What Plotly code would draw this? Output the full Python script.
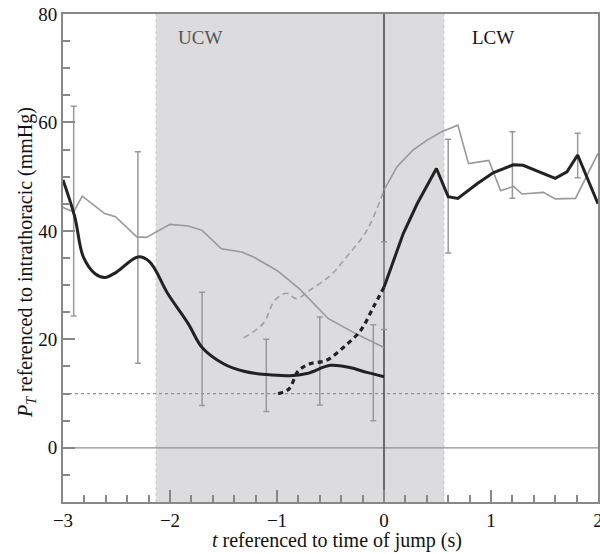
import plotly.graph_objects as go

# Mean P_T (thick black), before jump
black_pre_x = [-3.0, -2.89, -2.81, -2.70, -2.61, -2.50, -2.30, -2.19, -2.02, -1.83, -1.70, -1.50, -1.31, -1.10, -0.88, -0.72, -0.50, -0.32, -0.16, 0.0]
black_pre_y = [49.4, 42.6, 35.2, 32.1, 31.4, 32.4, 35.2, 34.3, 28.4, 22.9, 18.5, 15.5, 14.1, 13.5, 13.3, 13.7, 15.2, 14.8, 13.9, 13.1]

# Thick black dashed segment
black_dash_x = [-0.99, -0.89, -0.80, -0.69, -0.54, -0.38, -0.22, -0.10, 0.0]
black_dash_y = [10.0, 10.8, 14.2, 15.5, 16.1, 18.5, 21.6, 25.9, 29.6]

# Thick black after jump
black_post_x = [0.0, 0.18, 0.31, 0.49, 0.60, 0.69, 0.87, 1.02, 1.21, 1.30, 1.60, 1.71, 1.81, 2.0]
black_post_y = [29.6, 39.5, 45.0, 51.5, 46.3, 46.0, 48.7, 50.7, 52.2, 52.1, 49.7, 50.9, 54.0, 45.0]

# Thin gray line before jump
gray_pre_x = [-3.01, -2.90, -2.82, -2.61, -2.51, -2.31, -2.22, -2.0, -1.83, -1.70, -1.52, -1.33, -1.22, -1.0, -0.79, -0.52, -0.26, 0.0]
gray_pre_y = [44.4, 43.5, 46.4, 43.2, 42.6, 38.9, 38.8, 41.2, 40.9, 40.1, 36.7, 36.1, 35.2, 32.7, 29.3, 23.8, 21.0, 18.5]

# Thin gray dashed
gray_dash_x = [-1.31, -1.13, -1.02, -0.91, -0.82, -0.69, -0.50, -0.35, -0.16, 0.0]
gray_dash_y = [20.3, 22.9, 27.2, 28.5, 27.5, 29.1, 31.8, 35.2, 40.1, 47.5]

# Thin gray line after jump
gray_post_x = [0.0, 0.12, 0.27, 0.40, 0.54, 0.69, 0.79, 0.98, 1.09, 1.21, 1.29, 1.49, 1.60, 1.79, 2.0]
gray_post_y = [47.5, 51.8, 54.9, 56.7, 58.3, 59.5, 52.4, 53.0, 47.4, 48.2, 46.8, 47.1, 45.9, 46.0, 54.3]

# Error bars (range low..high)
err_x = [-2.90, -2.30, -1.70, -1.10, -0.60, -0.10, 0.0, 0.60, 1.20, 1.81]
err_lo = [24.3, 15.6, 7.8, 6.7, 7.9, 5.0, 21.8, 35.9, 46.0, 49.8]
err_hi = [63.0, 54.6, 28.7, 20.0, 24.1, 22.7, 38.0, 56.9, 58.3, 58.0]

# Shaded window and labels
ucw_start, ucw_end = -2.13, 0.56
region_labels = ["UCW", "LCW"]
x_title = "<i>t</i> referenced to time of jump (s)"
y_title = "<i>P</i><sub><i>T</i></sub> referenced to intrathoracic (mmHg)"

FONT = "Liberation Serif"
fig = go.Figure()

fig.add_shape(type="rect", xref="x", yref="y", x0=ucw_start, x1=ucw_end, y0=-10, y1=80,
              fillcolor="#dcdcdf", line_width=0, layer="below")
for xv in (ucw_start, ucw_end):
    fig.add_shape(type="line", xref="x", yref="y", x0=xv, x1=xv, y0=-10, y1=80,
                  line=dict(color="#c8c8cc", width=1, dash="dot"), layer="below")
fig.add_shape(type="line", xref="x", yref="y", x0=-3, x1=2, y0=0, y1=0,
              line=dict(color="#909090", width=1.2), layer="below")
fig.add_shape(type="line", xref="x", yref="y", x0=-3, x1=2, y0=10, y1=10,
              line=dict(color="#909090", width=1.2, dash="dot"), layer="below")
fig.add_shape(type="line", xref="x", yref="y", x0=0, x1=0, y0=-10, y1=80,
              line=dict(color="#444444", width=1.5), layer="below")

mid = [(a + b) / 2 for a, b in zip(err_lo, err_hi)]
half = [(b - a) / 2 for a, b in zip(err_lo, err_hi)]
fig.add_trace(go.Scatter(x=err_x, y=mid, mode="markers", marker=dict(size=0.1, color="rgba(0,0,0,0)"),
                         error_y=dict(type="data", array=half, visible=True, color="#999999", thickness=1.5, width=3),
                         showlegend=False, hoverinfo="skip"))

fig.add_trace(go.Scatter(x=gray_pre_x, y=gray_pre_y, mode="lines", line=dict(color="#999999", width=1.6), showlegend=False))
fig.add_trace(go.Scatter(x=gray_dash_x, y=gray_dash_y, mode="lines", line=dict(color="#a0a0a0", width=1.6, dash="6px,4px", shape="spline"), showlegend=False))
fig.add_trace(go.Scatter(x=gray_post_x, y=gray_post_y, mode="lines", line=dict(color="#999999", width=1.6), showlegend=False))
fig.add_trace(go.Scatter(x=black_pre_x, y=black_pre_y, mode="lines", line=dict(color="#222222", width=3, shape="spline"), showlegend=False))
fig.add_trace(go.Scatter(x=black_dash_x, y=black_dash_y, mode="lines", line=dict(color="#222222", width=3.2, dash="5px,4px", shape="spline"), showlegend=False))
fig.add_trace(go.Scatter(x=black_post_x, y=black_post_y, mode="lines", line=dict(color="#222222", width=3), showlegend=False))

fig.add_annotation(x=-1.72, y=75.6, text=region_labels[0], showarrow=False,
                   font=dict(family=FONT, size=19, color="#555555"))
fig.add_annotation(x=1.02, y=75.6, text=region_labels[1], showarrow=False,
                   font=dict(family=FONT, size=19, color="#111111"))

# Axis titles placed as annotations for precise positioning
fig.add_annotation(xref="paper", yref="paper", x=0.512, y=-0.078, xanchor="center", yanchor="middle",
                   text=x_title, showarrow=False, font=dict(family=FONT, size=20, color="#111111"))
fig.add_annotation(xref="paper", yref="paper", x=-0.0673, y=0.492, xanchor="center", yanchor="middle",
                   text=y_title, textangle=-90, showarrow=False, font=dict(family=FONT, size=20, color="#111111"))

fig.update_xaxes(range=[-3, 2], dtick=1, tick0=-3, ticks="inside", ticklen=12, tickcolor="#888888", tickwidth=1.5,
                 minor=dict(ticks="inside", dtick=0.2, tick0=-3, ticklen=7, tickcolor="#888888", tickwidth=1.5),
                 showgrid=False, zeroline=False, showline=True, linecolor="#888888", linewidth=2, mirror=True,
                 ticklabeloverflow="allow", automargin=False,
                 tickfont=dict(family=FONT, size=19, color="#111111"))
fig.update_yaxes(range=[-10, 80], dtick=20, tick0=0, ticks="inside", ticklen=12, tickcolor="#888888", tickwidth=1.5,
                 minor=dict(ticks="inside", dtick=5, tick0=0, ticklen=7, tickcolor="#888888", tickwidth=1.5),
                 showgrid=False, zeroline=False, showline=True, linecolor="#888888", linewidth=2, mirror=True,
                 automargin=False,
                 tickfont=dict(family=FONT, size=19, color="#111111"))

fig.update_layout(width=600, height=554, margin=dict(l=63, r=2, t=14, b=52),
                  plot_bgcolor="white", paper_bgcolor="white")
fig.write_html("out.html")
